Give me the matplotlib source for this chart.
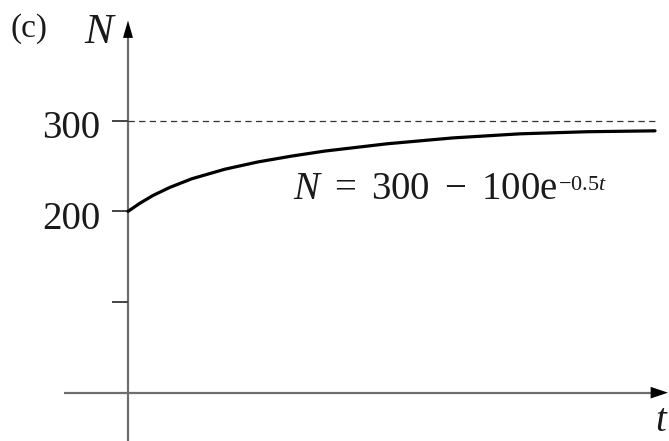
"""Logistic-style approach of N towards 300, drawn as a textbook sketch."""

import matplotlib.pyplot as plt

plt.rcParams['font.family'] = ['Liberation Serif', 'DejaVu Serif']
plt.rcParams['mathtext.fontset'] = 'custom'
plt.rcParams['mathtext.rm'] = 'Liberation Serif'
plt.rcParams['mathtext.it'] = 'Liberation Serif:italic'
plt.rcParams['mathtext.bf'] = 'Liberation Serif:bold'

# curve (t has no scale on the axis)
t = [0, 0.12, 0.25, 0.42, 0.64, 0.97, 1.30, 1.64, 1.97, 2.59, 3.25, 3.92, 4.59, 5.27]
N = [200, 209, 217.5, 226.5, 236, 246.5, 254.5, 261, 266.5, 274.5, 281, 285.5, 287.8, 288.8]
asymptote = 300
yticks = [100, 200, 300]
ytick_labels = ['', '200', '300']
eq_main = r'$N\ =\ 300\ -\ 100\mathrm{e}$'
eq_power = r'$-0.5t$'

axis_col = '#6e6e6e'
text_col = '#1a1a1a'

fig = plt.figure(figsize=(6.69, 4.41), dpi=100)
ax = fig.add_axes([0, 0, 1, 1])
ax.set_axis_off()
ax.set_xlim(-1.28, 5.41)
ax.set_ylim(-53.3, 433.1)

# axes drawn through the origin
ax.plot([0, 0], [-60, 392], color=axis_col, lw=1.6, solid_capstyle='butt')
ax.plot([-0.64, 5.25], [0, 0], color=axis_col, lw=1.6, solid_capstyle='butt')
ax.annotate('', xy=(0, 410.5), xytext=(0, 390),
            arrowprops=dict(arrowstyle='-|>,head_length=1.25,head_width=0.36',
                            color='black', lw=0, shrinkA=0, shrinkB=0))
ax.annotate('', xy=(5.40, 0), xytext=(5.20, 0),
            arrowprops=dict(arrowstyle='-|>,head_length=1.25,head_width=0.42',
                            color='black', lw=0, shrinkA=0, shrinkB=0))

for yv, lab in zip(yticks, ytick_labels):
    ax.plot([-0.16, 0], [yv, yv], color='#444444', lw=1.4, solid_capstyle='butt')
    if lab:
        ax.annotate(lab, xy=(0, yv), xytext=(-20, -12.7), textcoords='offset points',
                    ha='right', va='baseline', fontsize=28, color=text_col)

ax.plot([0, t[-1]], [asymptote, asymptote], color='#333333', lw=0.9,
        linestyle=(0, (5, 3.5)))
ax.plot(t, N, color='black', lw=2.3, solid_capstyle='round')

# equation with a small raised exponent placed after the main text
main = ax.text(1.65, 213.6, eq_main, ha='left', va='baseline', fontsize=28, color=text_col)
ax.annotate(eq_power, xy=(1, 0), xycoords=main, xytext=(0.5, 13),
            textcoords='offset points', ha='left', va='baseline',
            fontsize=16, color=text_col)

ax.text(-1.18, 392.3, '(c)', ha='left', va='baseline', fontsize=24, color=text_col)
ax.text(-0.44, 385.7, 'N', ha='left', va='baseline', fontsize=31,
        style='italic', color=text_col)
ax.text(5.27, -52.7, 't', ha='left', va='bottom', fontsize=28,
        style='italic', color=text_col)

fig.savefig('out.png', dpi=100)
